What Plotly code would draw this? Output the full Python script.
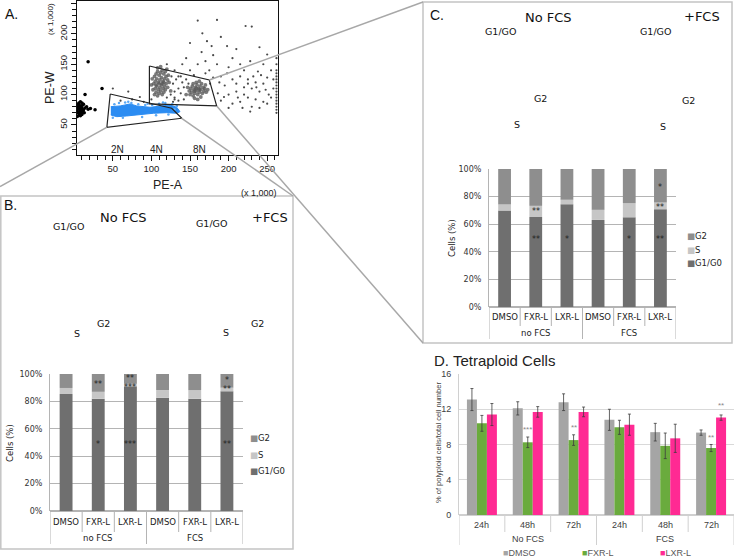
import plotly.graph_objects as go

W, H = 735, 559
def X(px): return px / W
def Y(py): return 1 - py / H

# ---------------- Panel A: flow cytometry (PE-A vs PE-W, x1000) ----------------
gate2n_x = [46.6, 126.3, 139.3, 42.3, 46.6]
gate2n_y = [101.0, 77.5, 61.0, 46.2, 101.0]
gate48_x = [97.4, 175.0, 184.5, 97.4, 97.4]
gate48_y = [147.1, 124.1, 81.3, 84.6, 147.1]

blue_band_x = [47.4, 59.5, 72.4, 81.0, 98.3, 111.0, 124.0, 132.8, 137.0,
               132.8, 119.6, 102.5, 85.3, 68.1, 55.2, 47.4]
blue_band_y = [80.1, 81.3, 84.6, 81.3, 79.1, 81.3, 82.9, 79.1, 71.9,
               69.2, 70.2, 69.2, 66.4, 64.8, 63.6, 66.4]
blue_pts_x = [52, 58, 66, 74, 83, 92, 101, 110, 118, 127, 133, 63, 88, 106, 122, 50, 70, 95, 115, 130]
blue_pts_y = [84, 86, 87, 86, 84, 83, 83, 85, 86, 84, 81, 62, 63, 66, 67, 62, 88, 85, 87, 76]

black_x = [4, 6, 8, 10, 5, 7, 9, 11, 4, 6, 8, 10, 12, 5, 7, 9, 11, 6, 8, 3, 13, 3, 12, 7, 9, 5, 10, 14, 16, 18,
           21, 27, 36, 18, 14]
black_y = [64, 66, 65, 67, 70, 72, 70, 72, 75, 77, 76, 78, 75, 80, 82, 80, 83, 86, 88, 72, 70, 80, 84, 68, 74,
           84, 86, 78, 80, 76, 77, 75, 110, 154, 100]

cl4n_x = [104, 106, 108, 110, 112, 114, 116, 118, 105, 107, 109, 111, 113, 115, 117, 119, 121, 103, 105, 107,
          109, 111, 113, 115, 117, 119, 121, 104, 106, 108, 110, 112, 114, 116, 118, 120, 108, 112, 102, 100,
          123, 125, 101, 122, 110, 114, 106, 116]
cl4n_y = [100, 104, 98, 102, 106, 100, 104, 108, 110, 114, 108, 112, 116, 110, 114, 118, 112, 118, 122, 126,
          120, 124, 128, 122, 126, 130, 124, 130, 134, 138, 132, 136, 140, 134, 138, 142, 144, 146, 108, 116,
          120, 106, 126, 132, 118, 118, 116, 120]
cl8n_x = [150, 152, 154, 156, 158, 160, 162, 164, 166, 168, 151, 153, 155, 157, 159, 161, 163, 165, 167, 169,
          149, 147, 171, 156, 160, 164, 158, 154, 162, 170, 145, 173, 158, 162, 156]
cl8n_y = [100, 104, 98, 102, 106, 100, 104, 108, 102, 106, 110, 114, 108, 112, 116, 110, 114, 118, 112, 110,
          106, 112, 104, 94, 92, 96, 120, 118, 122, 116, 100, 108, 110, 108, 106]

scatter_x = [160, 185, 222, 230, 166, 190, 172, 150, 198, 210, 240, 250, 165, 180, 205, 215, 228, 245, 255, 238,
             220, 200, 185, 175, 190, 205, 215, 225, 235, 245, 250, 258, 252, 240, 230, 220, 210, 200, 195, 188,
             225, 235, 245, 215, 205, 190, 230, 240, 250, 255, 220, 210, 232, 242, 198, 180, 170, 176, 186, 194,
             212, 225, 236, 248, 258, 218, 228, 200, 150, 140, 135, 130, 120, 145, 160, 170, 178, 155,
             125, 130, 135, 128, 138, 142, 132, 140, 126, 145, 135, 142, 130, 148, 128, 138,
             60, 75, 90, 100, 85, 120, 130, 50, 70]
scatter_y = [222, 223, 213, 212, 201, 195, 188, 185, 180, 175, 178, 166, 170, 165, 160, 150, 155, 150, 140, 138,
             140, 145, 150, 140, 130, 125, 130, 125, 120, 118, 128, 110, 100, 105, 110, 112, 105, 100, 115, 120,
             95, 92, 88, 88, 85, 90, 80, 78, 85, 95, 100, 118, 130, 132, 135, 128, 135, 118, 102, 96,
             95, 118, 112, 108, 125, 78, 72, 78, 140, 150, 130, 140, 150, 160, 150, 155, 180, 132,
             100, 95, 110, 118, 102, 112, 125, 120, 130, 125, 90, 92, 105, 118, 88, 130,
             90, 92, 88, 92, 96, 95, 92, 110, 105]
edge_x = [262, 262, 262, 262, 262, 262, 262, 262, 262, 262, 262, 262, 262, 262, 262, 262, 262]
edge_y = [70, 75, 80, 85, 90, 95, 100, 105, 110, 115, 120, 125, 130, 135, 140, 150, 160]

axisA_ticks = [50, 100, 150, 200, 250]
ploidy_labels = ["2N", "4N", "8N"]

# ---------------- Panels B and C: cell-cycle distribution ----------------
treatments = ["DMSO", "FXR-L", "LXR-L", "DMSO", "FXR-L", "LXR-L"]
serum_groups = ["no FCS", "FCS"]
phases = ["G2", "S", "G1/G0"]

b_g1 = [85.4, 82.0, 91.0, 82.7, 82.0, 87.4]
b_s = [4.4, 5.0, 1.8, 5.6, 6.2, 2.6]
b_g2 = [10.2, 13.0, 7.2, 11.7, 11.8, 10.0]
b_stars = [(1, 92.7, "**"), (1, 48.5, "*"), (2, 96.6, "**"), (2, 89.8, "***"), (2, 48.5, "***"),
           (5, 95.2, "*"), (5, 88.4, "**"), (5, 48.5, "**")]

c_g1 = [69.9, 65.2, 74.5, 63.1, 65.0, 70.9]
c_s = [4.4, 8.1, 3.2, 7.3, 10.2, 4.8]
c_g2 = [25.7, 26.7, 22.3, 29.6, 24.8, 24.3]
c_stars = [(1, 69.5, "**"), (1, 49.0, "**"), (2, 49.0, "*"), (4, 49.0, "*"),
           (5, 86.5, "*"), (5, 72.0, "**"), (5, 49.0, "**")]

# ---------------- Panel D: tetraploid cells ----------------
times = ["24h", "48h", "72h", "24h", "48h", "72h"]
serum_groups_d = ["No FCS", "FCS"]
dmso = [13.1, 12.1, 12.8, 10.8, 9.4, 9.35]
dmso_err = [1.25, 0.75, 0.95, 1.2, 1.0, 0.3]
fxr = [10.4, 8.25, 8.5, 9.95, 7.85, 7.6]
fxr_err = [0.9, 0.6, 0.6, 0.8, 1.45, 0.4]
lxr = [11.4, 11.7, 11.7, 10.25, 8.7, 11.05]
lxr_err = [1.25, 0.6, 0.55, 1.2, 1.6, 0.3]
d_series = ["DMSO", "FXR-L", "LXR-L"]
d_stars = [(1, "FXR-L", 9.7, "***"), (2, "FXR-L", 9.9, "**"), (5, "FXR-L", 8.8, "**"), (5, "LXR-L", 12.4, "**")]

C_G1, C_S, C_G2 = "#6f6f6f", "#c6c6c6", "#8e8e8e"
C_DMSO, C_FXR, C_LXR = "#a5a5a5", "#6aab3d", "#ff2a93"
GRID = "#b4b4b4"
FONT = "DejaVu Sans"
AFONT = "Liberation Sans"

fig = go.Figure()

# ---- A traces
fig.add_trace(go.Scatter(x=blue_band_x, y=blue_band_y, fill="toself", mode="lines",
                         line=dict(color="#2b8cf2", width=1), fillcolor="#2b8cf2",
                         xaxis="x", yaxis="y", hoverinfo="skip"))
fig.add_trace(go.Scatter(x=blue_pts_x, y=blue_pts_y, mode="markers",
                         marker=dict(color="#5aa8f5", size=2.5), xaxis="x", yaxis="y"))
fig.add_trace(go.Scatter(x=scatter_x + edge_x, y=scatter_y + edge_y, mode="markers",
                         marker=dict(color="#4a4a4a", size=2.2), xaxis="x", yaxis="y"))
fig.add_trace(go.Scatter(x=cl4n_x + cl8n_x, y=cl4n_y + cl8n_y, mode="markers",
                         marker=dict(color="#5a5a5a", size=3.8, opacity=0.8, line=dict(width=0)),
                         xaxis="x", yaxis="y"))
fig.add_trace(go.Scatter(x=black_x, y=black_y, mode="markers",
                         marker=dict(color="#000000", size=3.5), xaxis="x", yaxis="y"))
for gx, gy in [(gate2n_x, gate2n_y), (gate48_x, gate48_y)]:
    fig.add_trace(go.Scatter(x=gx, y=gy, mode="lines", line=dict(color="#222222", width=1.2),
                             xaxis="x", yaxis="y"))

# ---- B & C stacked bars (explicit base / offset)
idx = list(range(len(treatments)))
def stacked(g1, s, g2, xa, ya, w):
    base_s = g1
    base_g2 = [a + b for a, b in zip(g1, s)]
    for vals, base, col in [(g1, [0] * len(g1), C_G1), (s, base_s, C_S), (g2, base_g2, C_G2)]:
        fig.add_trace(go.Bar(x=idx, y=vals, base=base, width=w, offset=-w / 2,
                             marker=dict(color=col, line=dict(width=0)),
                             xaxis=xa, yaxis=ya))
stacked(b_g1, b_s, b_g2, "x2", "y2", 0.4)
stacked(c_g1, c_s, c_g2, "x3", "y3", 0.41)

# ---- D grouped bars with error bars
wd = 0.218
d_off = {"DMSO": -1.5 * wd, "FXR-L": -0.5 * wd, "LXR-L": 0.5 * wd}
for name, vals, err, col in [("DMSO", dmso, dmso_err, C_DMSO), ("FXR-L", fxr, fxr_err, C_FXR),
                             ("LXR-L", lxr, lxr_err, C_LXR)]:
    fig.add_trace(go.Bar(x=idx, y=vals, width=wd, offset=d_off[name], name=name,
                         marker=dict(color=col, line=dict(width=0)),
                         error_y=dict(type="data", array=err, color="#3c3c3c", thickness=0.8, width=1.5),
                         xaxis="x4", yaxis="y4"))

# ---- axes
fig.update_layout(
    width=W, height=H, margin=dict(l=0, r=0, t=0, b=0, autoexpand=False),
    paper_bgcolor="white", plot_bgcolor="white", showlegend=False, barmode="group",
    xaxis=dict(domain=[X(76.7), X(278)], anchor="y", range=[3.2, 264], tickvals=axisA_ticks,
               ticks="outside", ticklen=5, tickcolor="#111", showline=True, mirror=True,
               linecolor="#111", linewidth=1, showgrid=False, zeroline=False,
               minor=dict(dtick=10, tick0=0, ticks="outside", ticklen=4, tickcolor="#111"),
               tickfont=dict(family=AFONT, size=9.5, color="#222")),
    yaxis=dict(domain=[Y(154.5), Y(0.5)], anchor="x", range=[1.3, 255], tickvals=axisA_ticks,
               tickangle=-90, ticks="outside", ticklen=5, tickcolor="#111", showline=True, mirror=True,
               linecolor="#111", linewidth=1, showgrid=False, zeroline=False,
               minor=dict(dtick=10, tick0=0, ticks="outside", ticklen=4, tickcolor="#111"),
               tickfont=dict(family=AFONT, size=9.5, color="#222")),
)
cat_x = dict(range=[-0.5, 5.5], showticklabels=False, showgrid=False, zeroline=False, showline=False,
             ticks="")
pct_y = dict(range=[0, 100], dtick=20, ticksuffix="%", showgrid=True, gridcolor=GRID, gridwidth=1,
             zeroline=True, zerolinecolor=GRID, showline=True, linecolor=GRID, ticks="",
             ticklabelstandoff=5, tickfont=dict(family=FONT, size=8, color="#333"))
fig.update_layout(
    xaxis2=dict(domain=[X(50), X(243)], anchor="y2", **cat_x),
    yaxis2=dict(domain=[Y(511), Y(374)], anchor="x2", **pct_y),
    xaxis3=dict(domain=[X(489), X(676)], anchor="y3", **cat_x),
    yaxis3=dict(domain=[Y(307), Y(169)], anchor="x3", **pct_y),
    xaxis4=dict(domain=[X(459), X(734)], anchor="y4", **cat_x),
    yaxis4=dict(domain=[Y(515), Y(374)], anchor="x4", range=[0, 16], dtick=4, showgrid=True,
                gridcolor="#d9d9d9", zeroline=True, zerolinecolor="#d0d0d0", showline=True,
                linecolor="#d0d0d0", ticks="", ticklabelstandoff=5,
                tickfont=dict(family=AFONT, size=9, color="#404040")),
)

shapes = []
anns = []
def line_px(x0, y0, x1, y1, color, width=1.5):
    shapes.append(dict(type="line", xref="paper", yref="paper", x0=X(x0), y0=Y(y0), x1=X(x1), y1=Y(y1),
                       line=dict(color=color, width=width), layer="above"))
def text_px(t, x, y, size, family=FONT, color="#111", xanchor="center", angle=0):
    anns.append(dict(text=t, xref="paper", yref="paper", x=X(x), y=Y(y), showarrow=False,
                     xanchor=xanchor, yanchor="middle", textangle=angle,
                     font=dict(family=family, size=size, color=color)))

# panel boxes
shapes.append(dict(type="rect", xref="paper", yref="paper", x0=X(0.8), y0=Y(549), x1=X(293), y1=Y(196),
                   line=dict(color="#c4c4c4", width=1.5), layer="below"))
shapes.append(dict(type="rect", xref="paper", yref="paper", x0=X(423), y0=Y(343), x1=X(732), y1=Y(2),
                   line=dict(color="#c4c4c4", width=1.5), layer="below"))
# zoom connector lines from gates
LC = "#a8a8a8"
line_px(106.7, 127.3, 0, 186.5, LC)
line_px(181.7, 118.3, 293, 196, LC)
line_px(209.3, 80, 423, 2, LC)
line_px(216.7, 106, 423, 343, LC)

# category separators & labels
def cat_axis(xa, y_axis, y_row1_end, y_row2_end, y_lab1, y_lab2, labels, groups, fam, size, col, lc):
    for i in range(len(labels) + 1):
        xs = i - 0.5
        end = y_row2_end if i % 3 == 0 else y_row1_end
        shapes.append(dict(type="line", xref=xa, yref="paper", x0=xs, x1=xs, y0=Y(y_axis), y1=Y(end),
                           line=dict(color=lc, width=1)))
    for i, lab in enumerate(labels):
        anns.append(dict(text=lab, xref=xa, yref="paper", x=i, y=Y(y_lab1), showarrow=False,
                         yanchor="middle", font=dict(family=fam, size=size, color=col)))
    for g, lab in enumerate(groups):
        anns.append(dict(text=lab, xref=xa, yref="paper", x=3 * g + 1, y=Y(y_lab2), showarrow=False,
                         yanchor="middle", font=dict(family=fam, size=size, color=col)))
cat_axis("x2", 511, 532, 544, 522, 538, treatments, serum_groups, FONT, 8.5, "#222", GRID)
cat_axis("x3", 307, 326, 339, 317, 333, treatments, serum_groups, FONT, 8.5, "#222", GRID)
cat_axis("x4", 515, 532, 545, 525, 539, times, serum_groups_d, AFONT, 9, "#404040", "#d0d0d0")

# significance stars
for xa, ya, stars in [("x2", "y2", b_stars), ("x3", "y3", c_stars)]:
    for i, yv, s in stars:
        anns.append(dict(text=s, xref=xa, yref=ya, x=i, y=yv, showarrow=False, yanchor="middle",
                         font=dict(family=FONT, size=8, color="#222")))
for i, ser, yv, s in d_stars:
    anns.append(dict(text=s, xref="x4", yref="y4", x=i + d_off[ser] + wd / 2, y=yv, showarrow=False,
                     yanchor="middle", font=dict(family=AFONT, size=8, color="#8a8a8a")))

# phase legends for B and C
phase_cols = {"G2": C_G2, "S": C_S, "G1/G0": C_G1}
for ph, yb, yc in zip(phases, [438, 455, 471], [236, 249.5, 263]):
    t = f"<span style='color:{phase_cols[ph]}'>■</span>{ph}"
    text_px(t, 248, yb, 8.5, xanchor="left", color="#222")
    text_px(t, 685, yc, 8.5, xanchor="left", color="#222")
# D legend
for ser, col, xl in zip(d_series, [C_DMSO, C_FXR, C_LXR], [501, 580, 658]):
    text_px(f"<span style='color:{col}'>■</span>{ser}", xl, 552.5, 9, family=AFONT,
            xanchor="left", color="#595959")

# Panel A texts
text_px("A.", 3, 14, 14, family=AFONT, xanchor="left")
for lab, xv in zip(ploidy_labels, [117, 156, 199]):
    text_px(lab, xv, 149, 10, family=AFONT, color="#222")
text_px("PE-A", 168, 185, 12.5, family=AFONT, color="#222")
text_px("(x 1,000)", 259, 193, 9, family=AFONT, color="#222")
text_px("PE-W", 50, 88, 12.5, family=AFONT, color="#222", angle=-90)
text_px("(x 1,000)", 50, 19, 8, family=AFONT, color="#222", angle=-90)

# Panel B texts
text_px("B.", 2, 205, 14, family=AFONT, xanchor="left")
text_px("No FCS", 124, 217, 13)
text_px("+FCS", 270, 217, 13)
text_px("G1/GO", 68, 226, 9.5)
text_px("G1/GO", 211, 224, 9.5)
text_px("S", 77, 333, 9.5)
text_px("G2", 103, 323, 9.5)
text_px("S", 226, 332, 9.5)
text_px("G2", 257, 323, 9.5)
text_px("Cells (%)", 10, 443, 8.5, angle=-90, color="#222")

# Panel C texts
text_px("C.", 428, 15, 14, family=AFONT, xanchor="left")
text_px("No FCS", 548, 18, 13)
text_px("+FCS", 702, 17, 13)
text_px("G1/GO", 500, 31, 9.5)
text_px("G1/GO", 655, 31, 9.5)
text_px("G2", 540, 99, 9.5)
text_px("G2", 688, 100, 9.5)
text_px("S", 517, 124, 9.5)
text_px("S", 663, 126, 9.5)
text_px("Cells (%)", 452, 238, 8.5, angle=-90, color="#222")

# Panel D texts
text_px("D. Tetraploid Cells", 432, 360, 15, family=AFONT, xanchor="left", color="#222")
text_px("% of polyploid cells/total cell number", 438, 443, 7.5, family=AFONT, angle=-90, color="#404040")

fig.update_layout(shapes=shapes, annotations=anns)
fig.write_html("out.html", config={"displayModeBar": False},
               post_script="document.body.style.margin='0';document.body.style.overflow='hidden';")
